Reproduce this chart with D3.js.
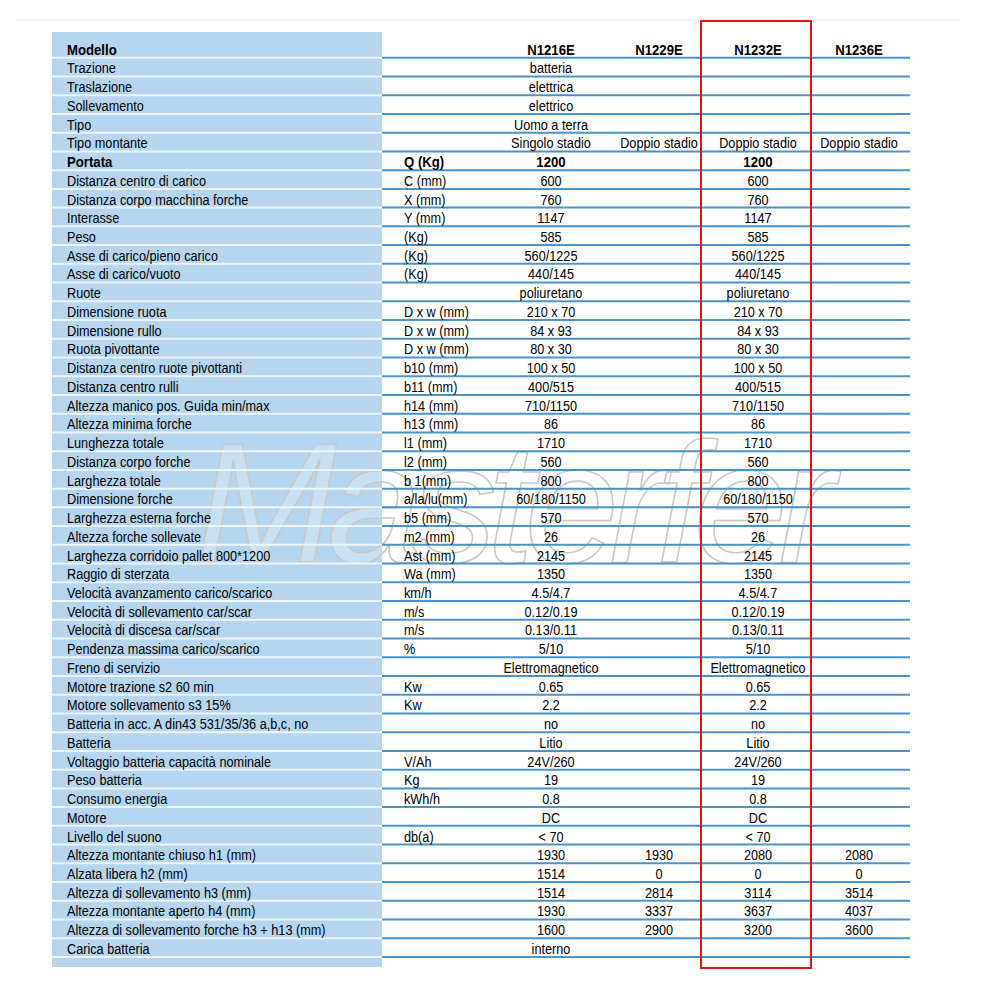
<!DOCTYPE html>
<html>
<head>
<meta charset="utf-8">
<script src="https://cdn.jsdelivr.net/npm/d3@7"></script>
<style>
 body { margin: 0; background: #fff; }
 text { font-family: "Liberation Sans", Arial, sans-serif; }
</style>
</head>
<body>
<div id="chart"></div>
<script>
// table contents (one entry per row)
var models = ['N1216E', 'N1229E', 'N1232E', 'N1236E'];

var labels = ['Modello', 'Trazione', 'Traslazione', 'Sollevamento', 'Tipo', 'Tipo montante',
 'Portata', 'Distanza centro di carico', 'Distanza corpo macchina forche', 'Interasse', 'Peso',
 'Asse di carico/pieno carico', 'Asse di carico/vuoto', 'Ruote', 'Dimensione ruota', 'Dimensione rullo',
 'Ruota pivottante', 'Distanza centro ruote pivottanti', 'Distanza centro rulli',
 'Altezza manico pos. Guida min/max', 'Altezza minima forche', 'Lunghezza totale',
 'Distanza corpo forche', 'Larghezza totale', 'Dimensione forche', 'Larghezza esterna forche',
 'Altezza forche sollevate', 'Larghezza corridoio pallet 800*1200', 'Raggio di sterzata',
 'Velocità avanzamento carico/scarico', 'Velocità di sollevamento car/scar', 'Velocità di discesa car/scar',
 'Pendenza massima carico/scarico', 'Freno di servizio', 'Motore trazione s2 60 min',
 'Motore sollevamento s3 15%', 'Batteria in acc. A din43 531/35/36 a,b,c, no', 'Batteria',
 'Voltaggio batteria capacità nominale', 'Peso batteria', 'Consumo energia', 'Motore',
 'Livello del suono', 'Altezza montante chiuso h1 (mm)', 'Alzata libera h2 (mm)',
 'Altezza di sollevamento h3 (mm)', 'Altezza montante aperto h4 (mm)',
 'Altezza di sollevamento forche h3 + h13 (mm)', 'Carica batteria'];

var units = ['', '', '', '', '', '', 'Q (Kg)', 'C (mm)', 'X (mm)', 'Y (mm)', '(Kg)', '(Kg)', '(Kg)', '',
 'D x w (mm)', 'D x w (mm)', 'D x w (mm)', 'b10 (mm)', 'b11 (mm)', 'h14 (mm)', 'h13 (mm)', 'l1 (mm)',
 'l2 (mm)', 'b 1(mm)', 'a/la/lu(mm)', 'b5 (mm)', 'm2 (mm)', 'Ast (mm)', 'Wa (mm)', 'km/h', 'm/s', 'm/s',
 '%', '', 'Kw', 'Kw', '', '', 'V/Ah', 'Kg', 'kWh/h', '', 'db(a)', '', '', '', '', '', ''];

var valN1216E = ['N1216E', 'batteria', 'elettrica', 'elettrico', 'Uomo a terra', 'Singolo stadio',
 '1200', '600', '760', '1147', '585', '560/1225', '440/145', 'poliuretano', '210 x 70', '84 x 93',
 '80 x 30', '100 x 50', '400/515', '710/1150', '86', '1710', '560', '800', '60/180/1150', '570', '26',
 '2145', '1350', '4.5/4.7', '0.12/0.19', '0.13/0.11', '5/10', 'Elettromagnetico', '0.65', '2.2', 'no',
 'Litio', '24V/260', '19', '0.8', 'DC', '< 70', '1930', '1514', '1514', '1930', '1600', 'interno'];

var valN1229E = ['N1229E', '', '', '', '', 'Doppio stadio', '', '', '', '', '', '', '', '', '', '', '',
 '', '', '', '', '', '', '', '', '', '', '', '', '', '', '', '', '', '', '', '', '', '', '', '', '', '',
 '1930', '0', '2814', '3337', '2900', ''];

var valN1232E = ['N1232E', '', '', '', '', 'Doppio stadio', '1200', '600', '760', '1147', '585',
 '560/1225', '440/145', 'poliuretano', '210 x 70', '84 x 93', '80 x 30', '100 x 50', '400/515',
 '710/1150', '86', '1710', '560', '800', '60/180/1150', '570', '26', '2145', '1350', '4.5/4.7',
 '0.12/0.19', '0.13/0.11', '5/10', 'Elettromagnetico', '0.65', '2.2', 'no', 'Litio', '24V/260', '19',
 '0.8', 'DC', '< 70', '2080', '0', '3114', '3637', '3200', ''];

var valN1236E = ['N1236E', '', '', '', '', 'Doppio stadio', '', '', '', '', '', '', '', '', '', '', '',
 '', '', '', '', '', '', '', '', '', '', '', '', '', '', '', '', '', '', '', '', '', '', '', '', '', '',
 '2080', '0', '3514', '4037', '3600', ''];

var boldRows = ['Modello', 'Portata'];
var highlighted = 'N1232E';

var width = 1000, height = 1000;

var svg = d3.select('#chart').append('svg')
 .attr('width', width).attr('height', height);

svg.append('rect').attr('width', width).attr('height', height).attr('fill', '#fff');

// faint frame line at the top
svg.append('line')
 .attr('x1', 15).attr('x2', 960).attr('y1', 20).attr('y2', 20)
 .attr('stroke', '#f0f0f0').attr('stroke-width', 1.5);

// row scale
var y = d3.scaleBand().domain(d3.range(labels.length)).range([39, 957]).padding(0);
// column scale (centres of value columns)
var x = d3.scaleOrdinal().domain(models).range([551, 659, 758, 859]);

var panelLeft = 52, panelRight = 382, tableRight = 910;

// blue label panel
svg.append('rect')
 .attr('x', panelLeft).attr('y', 32)
 .attr('width', panelRight - panelLeft).attr('height', 967 - 32)
 .attr('fill', '#b5d6ee');

// watermark
svg.append('text')
 .attr('x', 515).attr('y', 562)
 .attr('text-anchor', 'middle')
 .attr('font-size', 170)
 .attr('font-style', 'italic')
 .attr('fill', '#ffffff').attr('fill-opacity', 0.25)
 .attr('stroke', '#c8c8c8').attr('stroke-width', 1.6)
 .attr('textLength', 640)
 .text('Masterfer');

// separators
var seps = svg.append('g');
labels.forEach(function(d, i) {
 var yy = y(i) + y.bandwidth();
 seps.append('line')
  .attr('x1', panelLeft).attr('x2', panelRight).attr('y1', yy).attr('y2', yy)
  .attr('stroke', '#eef6fc').attr('stroke-width', 2);
 seps.append('line')
  .attr('x1', panelRight).attr('x2', tableRight).attr('y1', yy).attr('y2', yy)
  .attr('stroke', '#4b92c9').attr('stroke-width', 2);
});

var columns = [valN1216E, valN1229E, valN1232E, valN1236E];

// condensed look: squeeze the glyphs horizontally
function cell(g, tx, ty, txt, bold, anchor) {
 g.append('text')
  .attr('transform', 'translate(' + tx + ',' + ty + ') scale(' + (bold ? 0.85 : 0.82) + ',1)')
  .attr('text-anchor', anchor)
  .attr('font-weight', bold ? 'bold' : 'normal')
  .text(txt);
}

var rowsG = svg.append('g').attr('font-size', 15.5).attr('fill', '#000');
labels.forEach(function(lab, i) {
 var cy = y(i) + y.bandwidth() / 2 + 6.3;
 var bold = boldRows.indexOf(lab) >= 0;
 cell(rowsG, 67, cy, lab, bold, 'start');
 if (units[i]) cell(rowsG, 404, cy, units[i], bold, 'start');
 columns.forEach(function(col, j) {
  if (col[i]) cell(rowsG, x(models[j]), cy, col[i], bold, 'middle');
 });
});

// highlight box round the selected model
svg.append('rect')
 .attr('x', 701).attr('y', 21)
 .attr('width', 110).attr('height', 947)
 .attr('fill', 'none').attr('stroke', '#ee1111').attr('stroke-width', 2);
</script>
</body>
</html>
